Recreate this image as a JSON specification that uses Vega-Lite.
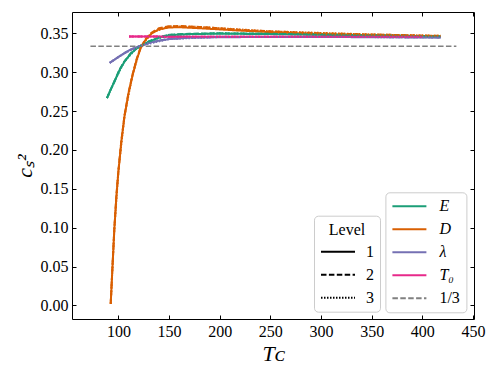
{
  "$schema": "https://vega.github.io/schema/vega-lite/v6.json",
  "width": 402,
  "height": 307,
  "autosize": {"type": "none"},
  "padding": {"left": 72, "top": 12, "right": 24, "bottom": 55},
  "config": {
    "view": {"stroke": null},
    "font": "Times New Roman, Liberation Serif, serif",
    "axis": {
      "grid": false,
      "domainColor": "black",
      "domainWidth": 1,
      "tickColor": "black",
      "tickWidth": 1,
      "tickSize": -4,
      "labelPadding": 8,
      "labelFont": "Times New Roman, Liberation Serif, serif",
      "labelFontSize": 16,
      "labelColor": "black",
      "titleFont": "Times New Roman, Liberation Serif, serif",
      "titleFontSize": 22,
      "titleColor": "black",
      "titleFontWeight": "normal",
      "titleFontStyle": "italic"
    }
  },
  "datasets": {
    "curves": [
      {"T_C": 88.7, "c2": 0.2665, "quantity": "E", "Level": "1"},
      {"T_C": 92, "c2": 0.2765, "quantity": "E", "Level": "1"},
      {"T_C": 96, "c2": 0.2875, "quantity": "E", "Level": "1"},
      {"T_C": 101, "c2": 0.3025, "quantity": "E", "Level": "1"},
      {"T_C": 106, "c2": 0.3135, "quantity": "E", "Level": "1"},
      {"T_C": 112, "c2": 0.3235, "quantity": "E", "Level": "1"},
      {"T_C": 118, "c2": 0.3305, "quantity": "E", "Level": "1"},
      {"T_C": 122, "c2": 0.3335, "quantity": "E", "Level": "1"},
      {"T_C": 130, "c2": 0.339, "quantity": "E", "Level": "1"},
      {"T_C": 140, "c2": 0.3445, "quantity": "E", "Level": "1"},
      {"T_C": 150, "c2": 0.3475, "quantity": "E", "Level": "1"},
      {"T_C": 170, "c2": 0.349, "quantity": "E", "Level": "1"},
      {"T_C": 200, "c2": 0.3495, "quantity": "E", "Level": "1"},
      {"T_C": 250, "c2": 0.349, "quantity": "E", "Level": "1"},
      {"T_C": 300, "c2": 0.348, "quantity": "E", "Level": "1"},
      {"T_C": 350, "c2": 0.347, "quantity": "E", "Level": "1"},
      {"T_C": 418, "c2": 0.3455, "quantity": "E", "Level": "1"},

      {"T_C": 92.4, "c2": 0.002, "quantity": "D", "Level": "1"},
      {"T_C": 94, "c2": 0.045, "quantity": "D", "Level": "1"},
      {"T_C": 96, "c2": 0.098, "quantity": "D", "Level": "1"},
      {"T_C": 98, "c2": 0.14, "quantity": "D", "Level": "1"},
      {"T_C": 100, "c2": 0.172, "quantity": "D", "Level": "1"},
      {"T_C": 103, "c2": 0.212, "quantity": "D", "Level": "1"},
      {"T_C": 106, "c2": 0.243, "quantity": "D", "Level": "1"},
      {"T_C": 110, "c2": 0.273, "quantity": "D", "Level": "1"},
      {"T_C": 114, "c2": 0.296, "quantity": "D", "Level": "1"},
      {"T_C": 118, "c2": 0.316, "quantity": "D", "Level": "1"},
      {"T_C": 122, "c2": 0.331, "quantity": "D", "Level": "1"},
      {"T_C": 127, "c2": 0.342, "quantity": "D", "Level": "1"},
      {"T_C": 133, "c2": 0.35, "quantity": "D", "Level": "1"},
      {"T_C": 140, "c2": 0.355, "quantity": "D", "Level": "1"},
      {"T_C": 150, "c2": 0.3575, "quantity": "D", "Level": "1"},
      {"T_C": 160, "c2": 0.3578, "quantity": "D", "Level": "1"},
      {"T_C": 180, "c2": 0.3565, "quantity": "D", "Level": "1"},
      {"T_C": 200, "c2": 0.355, "quantity": "D", "Level": "1"},
      {"T_C": 220, "c2": 0.3535, "quantity": "D", "Level": "1"},
      {"T_C": 250, "c2": 0.3515, "quantity": "D", "Level": "1"},
      {"T_C": 300, "c2": 0.349, "quantity": "D", "Level": "1"},
      {"T_C": 350, "c2": 0.3475, "quantity": "D", "Level": "1"},
      {"T_C": 418, "c2": 0.346, "quantity": "D", "Level": "1"},

      {"T_C": 91.4, "c2": 0.312, "quantity": "λ", "Level": "1"},
      {"T_C": 96, "c2": 0.316, "quantity": "λ", "Level": "1"},
      {"T_C": 100, "c2": 0.3195, "quantity": "λ", "Level": "1"},
      {"T_C": 106, "c2": 0.3245, "quantity": "λ", "Level": "1"},
      {"T_C": 112, "c2": 0.329, "quantity": "λ", "Level": "1"},
      {"T_C": 118, "c2": 0.332, "quantity": "λ", "Level": "1"},
      {"T_C": 122, "c2": 0.334, "quantity": "λ", "Level": "1"},
      {"T_C": 130, "c2": 0.3375, "quantity": "λ", "Level": "1"},
      {"T_C": 140, "c2": 0.3405, "quantity": "λ", "Level": "1"},
      {"T_C": 150, "c2": 0.3425, "quantity": "λ", "Level": "1"},
      {"T_C": 170, "c2": 0.3443, "quantity": "λ", "Level": "1"},
      {"T_C": 200, "c2": 0.345, "quantity": "λ", "Level": "1"},
      {"T_C": 250, "c2": 0.3452, "quantity": "λ", "Level": "1"},
      {"T_C": 300, "c2": 0.3452, "quantity": "λ", "Level": "1"},
      {"T_C": 350, "c2": 0.345, "quantity": "λ", "Level": "1"},
      {"T_C": 418, "c2": 0.3445, "quantity": "λ", "Level": "1"},

      {"T_C": 110.5, "c2": 0.3458, "quantity": "T₀", "Level": "1"},
      {"T_C": 150, "c2": 0.3457, "quantity": "T₀", "Level": "1"},
      {"T_C": 200, "c2": 0.3456, "quantity": "T₀", "Level": "1"},
      {"T_C": 250, "c2": 0.3455, "quantity": "T₀", "Level": "1"},
      {"T_C": 300, "c2": 0.3455, "quantity": "T₀", "Level": "1"},
      {"T_C": 350, "c2": 0.3455, "quantity": "T₀", "Level": "1"},
      {"T_C": 400, "c2": 0.3455, "quantity": "T₀", "Level": "1"},

      {"T_C": 88.7, "c2": 0.2665, "quantity": "E", "Level": "2"},
      {"T_C": 92, "c2": 0.2765, "quantity": "E", "Level": "2"},
      {"T_C": 96, "c2": 0.288, "quantity": "E", "Level": "2"},
      {"T_C": 101, "c2": 0.303, "quantity": "E", "Level": "2"},
      {"T_C": 106, "c2": 0.314, "quantity": "E", "Level": "2"},
      {"T_C": 112, "c2": 0.324, "quantity": "E", "Level": "2"},
      {"T_C": 118, "c2": 0.331, "quantity": "E", "Level": "2"},
      {"T_C": 122, "c2": 0.334, "quantity": "E", "Level": "2"},
      {"T_C": 130, "c2": 0.3395, "quantity": "E", "Level": "2"},
      {"T_C": 140, "c2": 0.345, "quantity": "E", "Level": "2"},
      {"T_C": 150, "c2": 0.348, "quantity": "E", "Level": "2"},
      {"T_C": 170, "c2": 0.3495, "quantity": "E", "Level": "2"},
      {"T_C": 200, "c2": 0.35, "quantity": "E", "Level": "2"},
      {"T_C": 250, "c2": 0.3495, "quantity": "E", "Level": "2"},
      {"T_C": 300, "c2": 0.3485, "quantity": "E", "Level": "2"},
      {"T_C": 350, "c2": 0.3475, "quantity": "E", "Level": "2"},
      {"T_C": 418, "c2": 0.346, "quantity": "E", "Level": "2"},

      {"T_C": 92.4, "c2": 0.002, "quantity": "D", "Level": "2"},
      {"T_C": 94, "c2": 0.046, "quantity": "D", "Level": "2"},
      {"T_C": 96, "c2": 0.099, "quantity": "D", "Level": "2"},
      {"T_C": 98, "c2": 0.141, "quantity": "D", "Level": "2"},
      {"T_C": 100, "c2": 0.173, "quantity": "D", "Level": "2"},
      {"T_C": 103, "c2": 0.213, "quantity": "D", "Level": "2"},
      {"T_C": 106, "c2": 0.244, "quantity": "D", "Level": "2"},
      {"T_C": 110, "c2": 0.274, "quantity": "D", "Level": "2"},
      {"T_C": 114, "c2": 0.297, "quantity": "D", "Level": "2"},
      {"T_C": 118, "c2": 0.317, "quantity": "D", "Level": "2"},
      {"T_C": 122, "c2": 0.332, "quantity": "D", "Level": "2"},
      {"T_C": 127, "c2": 0.343, "quantity": "D", "Level": "2"},
      {"T_C": 133, "c2": 0.351, "quantity": "D", "Level": "2"},
      {"T_C": 140, "c2": 0.3565, "quantity": "D", "Level": "2"},
      {"T_C": 150, "c2": 0.359, "quantity": "D", "Level": "2"},
      {"T_C": 160, "c2": 0.3595, "quantity": "D", "Level": "2"},
      {"T_C": 180, "c2": 0.3582, "quantity": "D", "Level": "2"},
      {"T_C": 200, "c2": 0.3565, "quantity": "D", "Level": "2"},
      {"T_C": 220, "c2": 0.3545, "quantity": "D", "Level": "2"},
      {"T_C": 250, "c2": 0.3525, "quantity": "D", "Level": "2"},
      {"T_C": 300, "c2": 0.35, "quantity": "D", "Level": "2"},
      {"T_C": 350, "c2": 0.3485, "quantity": "D", "Level": "2"},
      {"T_C": 418, "c2": 0.3467, "quantity": "D", "Level": "2"},

      {"T_C": 91.4, "c2": 0.312, "quantity": "λ", "Level": "2"},
      {"T_C": 96, "c2": 0.316, "quantity": "λ", "Level": "2"},
      {"T_C": 100, "c2": 0.3195, "quantity": "λ", "Level": "2"},
      {"T_C": 106, "c2": 0.3245, "quantity": "λ", "Level": "2"},
      {"T_C": 112, "c2": 0.329, "quantity": "λ", "Level": "2"},
      {"T_C": 118, "c2": 0.332, "quantity": "λ", "Level": "2"},
      {"T_C": 122, "c2": 0.334, "quantity": "λ", "Level": "2"},
      {"T_C": 130, "c2": 0.3377, "quantity": "λ", "Level": "2"},
      {"T_C": 140, "c2": 0.3407, "quantity": "λ", "Level": "2"},
      {"T_C": 150, "c2": 0.3427, "quantity": "λ", "Level": "2"},
      {"T_C": 170, "c2": 0.3445, "quantity": "λ", "Level": "2"},
      {"T_C": 200, "c2": 0.3452, "quantity": "λ", "Level": "2"},
      {"T_C": 250, "c2": 0.3454, "quantity": "λ", "Level": "2"},
      {"T_C": 300, "c2": 0.3454, "quantity": "λ", "Level": "2"},
      {"T_C": 350, "c2": 0.3452, "quantity": "λ", "Level": "2"},
      {"T_C": 418, "c2": 0.3447, "quantity": "λ", "Level": "2"},

      {"T_C": 110.5, "c2": 0.3458, "quantity": "T₀", "Level": "2"},
      {"T_C": 150, "c2": 0.3457, "quantity": "T₀", "Level": "2"},
      {"T_C": 200, "c2": 0.3456, "quantity": "T₀", "Level": "2"},
      {"T_C": 250, "c2": 0.3455, "quantity": "T₀", "Level": "2"},
      {"T_C": 300, "c2": 0.3455, "quantity": "T₀", "Level": "2"},
      {"T_C": 350, "c2": 0.3455, "quantity": "T₀", "Level": "2"},
      {"T_C": 400, "c2": 0.3455, "quantity": "T₀", "Level": "2"},

      {"T_C": 88.7, "c2": 0.2665, "quantity": "E", "Level": "3"},
      {"T_C": 96, "c2": 0.288, "quantity": "E", "Level": "3"},
      {"T_C": 106, "c2": 0.314, "quantity": "E", "Level": "3"},
      {"T_C": 118, "c2": 0.331, "quantity": "E", "Level": "3"},
      {"T_C": 130, "c2": 0.3395, "quantity": "E", "Level": "3"},
      {"T_C": 150, "c2": 0.348, "quantity": "E", "Level": "3"},
      {"T_C": 200, "c2": 0.35, "quantity": "E", "Level": "3"},
      {"T_C": 300, "c2": 0.3485, "quantity": "E", "Level": "3"},
      {"T_C": 418, "c2": 0.346, "quantity": "E", "Level": "3"},

      {"T_C": 92.4, "c2": 0.002, "quantity": "D", "Level": "3"},
      {"T_C": 96, "c2": 0.099, "quantity": "D", "Level": "3"},
      {"T_C": 100, "c2": 0.173, "quantity": "D", "Level": "3"},
      {"T_C": 106, "c2": 0.244, "quantity": "D", "Level": "3"},
      {"T_C": 114, "c2": 0.297, "quantity": "D", "Level": "3"},
      {"T_C": 122, "c2": 0.332, "quantity": "D", "Level": "3"},
      {"T_C": 133, "c2": 0.351, "quantity": "D", "Level": "3"},
      {"T_C": 150, "c2": 0.359, "quantity": "D", "Level": "3"},
      {"T_C": 180, "c2": 0.3582, "quantity": "D", "Level": "3"},
      {"T_C": 250, "c2": 0.3525, "quantity": "D", "Level": "3"},
      {"T_C": 350, "c2": 0.3485, "quantity": "D", "Level": "3"},
      {"T_C": 418, "c2": 0.3467, "quantity": "D", "Level": "3"},

      {"T_C": 91.4, "c2": 0.312, "quantity": "λ", "Level": "3"},
      {"T_C": 106, "c2": 0.3245, "quantity": "λ", "Level": "3"},
      {"T_C": 122, "c2": 0.334, "quantity": "λ", "Level": "3"},
      {"T_C": 150, "c2": 0.3427, "quantity": "λ", "Level": "3"},
      {"T_C": 200, "c2": 0.3452, "quantity": "λ", "Level": "3"},
      {"T_C": 300, "c2": 0.3454, "quantity": "λ", "Level": "3"},
      {"T_C": 418, "c2": 0.3447, "quantity": "λ", "Level": "3"},

      {"T_C": 110.5, "c2": 0.3458, "quantity": "T₀", "Level": "3"},
      {"T_C": 250, "c2": 0.3455, "quantity": "T₀", "Level": "3"},
      {"T_C": 400, "c2": 0.3455, "quantity": "T₀", "Level": "3"}
    ],
    "third": [
      {"T_C": 72.4, "c2": 0.3333333, "quantity": "1/3"},
      {"T_C": 433.6, "c2": 0.3333333, "quantity": "1/3"}
    ]
  },
  "layer": [
    {
      "data": {"name": "third"},
      "mark": {"type": "line", "strokeWidth": 1.5, "strokeDash": [5.5, 2.4]},
      "encoding": {
        "x": {"field": "T_C", "type": "quantitative", "scale": {"domain": [54.2, 451], "nice": false, "zero": false},
              "axis": {"orient": "top", "labels": false, "title": null, "values": [100, 150, 200, 250, 300, 350, 400, 450]}},
        "y": {"field": "c2", "type": "quantitative", "scale": {"domain": [-0.0175, 0.3774], "nice": false, "zero": false},
              "axis": {"orient": "right", "labels": false, "title": null, "values": [0, 0.05, 0.1, 0.15, 0.2, 0.25, 0.3, 0.35]}},
        "color": {"field": "quantity", "type": "nominal"}
      }
    },
    {
      "data": {"name": "curves"},
      "mark": {"type": "line", "strokeWidth": 2},
      "encoding": {
        "x": {"field": "T_C", "type": "quantitative",
              "axis": {"orient": "bottom", "title": "Tᴄ", "values": [100, 150, 200, 250, 300, 350, 400, 450]}},
        "y": {"field": "c2", "type": "quantitative",
              "axis": {"orient": "left", "title": "cₛ²", "format": ".2f", "values": [0, 0.05, 0.1, 0.15, 0.2, 0.25, 0.3, 0.35]}},
        "color": {
          "field": "quantity", "type": "nominal",
          "scale": {"domain": ["E", "D", "λ", "T₀", "1/3"], "range": ["#1b9e77", "#d95f02", "#7570b3", "#e7298a", "#808080"]},
          "legend": {
            "orient": "none", "legendX": 313.4, "legendY": 180.3, "title": null,
            "symbolType": "stroke", "symbolSize": 1156, "symbolStrokeWidth": 2,
            "labelFont": "Times New Roman, Liberation Serif, serif", "labelFontSize": 16, "labelColor": "black",
            "clipHeight": 16, "rowPadding": 7, "labelOffset": 12,
            "strokeColor": "#cccccc", "fillColor": "white", "cornerRadius": 4, "padding": 6,
            "encode": {
              "symbols": {"update": {"strokeDash": {"signal": "datum.value === '1/3' ? [5.5, 2.4] : [1, 0]"}}},
              "labels": {"update": {"fontStyle": {"signal": "datum.value === '1/3' ? 'normal' : 'italic'"}}}
            }
          }
        },
        "strokeDash": {
          "field": "Level", "type": "nominal",
          "scale": {"domain": ["1", "2", "3"], "range": [[1, 0], [5.5, 2.4], [1.5, 1.5]]},
          "legend": {
            "orient": "none", "legendX": 242, "legendY": 203.7, "title": "Level",
            "titleFont": "Times New Roman, Liberation Serif, serif", "titleFontSize": 16, "titleFontWeight": "normal", "titleColor": "black",
            "titleAnchor": "middle", "titlePadding": 6,
            "symbolType": "stroke", "symbolSize": 1156, "symbolStrokeWidth": 2, "symbolStrokeColor": "black",
            "labelFont": "Times New Roman, Liberation Serif, serif", "labelFontSize": 16, "labelColor": "black",
            "clipHeight": 16, "rowPadding": 7, "labelOffset": 10,
            "strokeColor": "#cccccc", "fillColor": "white", "cornerRadius": 4, "padding": 6
          }
        }
      }
    }
  ],
  "resolve": {"axis": {"x": "independent", "y": "independent"}}
}
